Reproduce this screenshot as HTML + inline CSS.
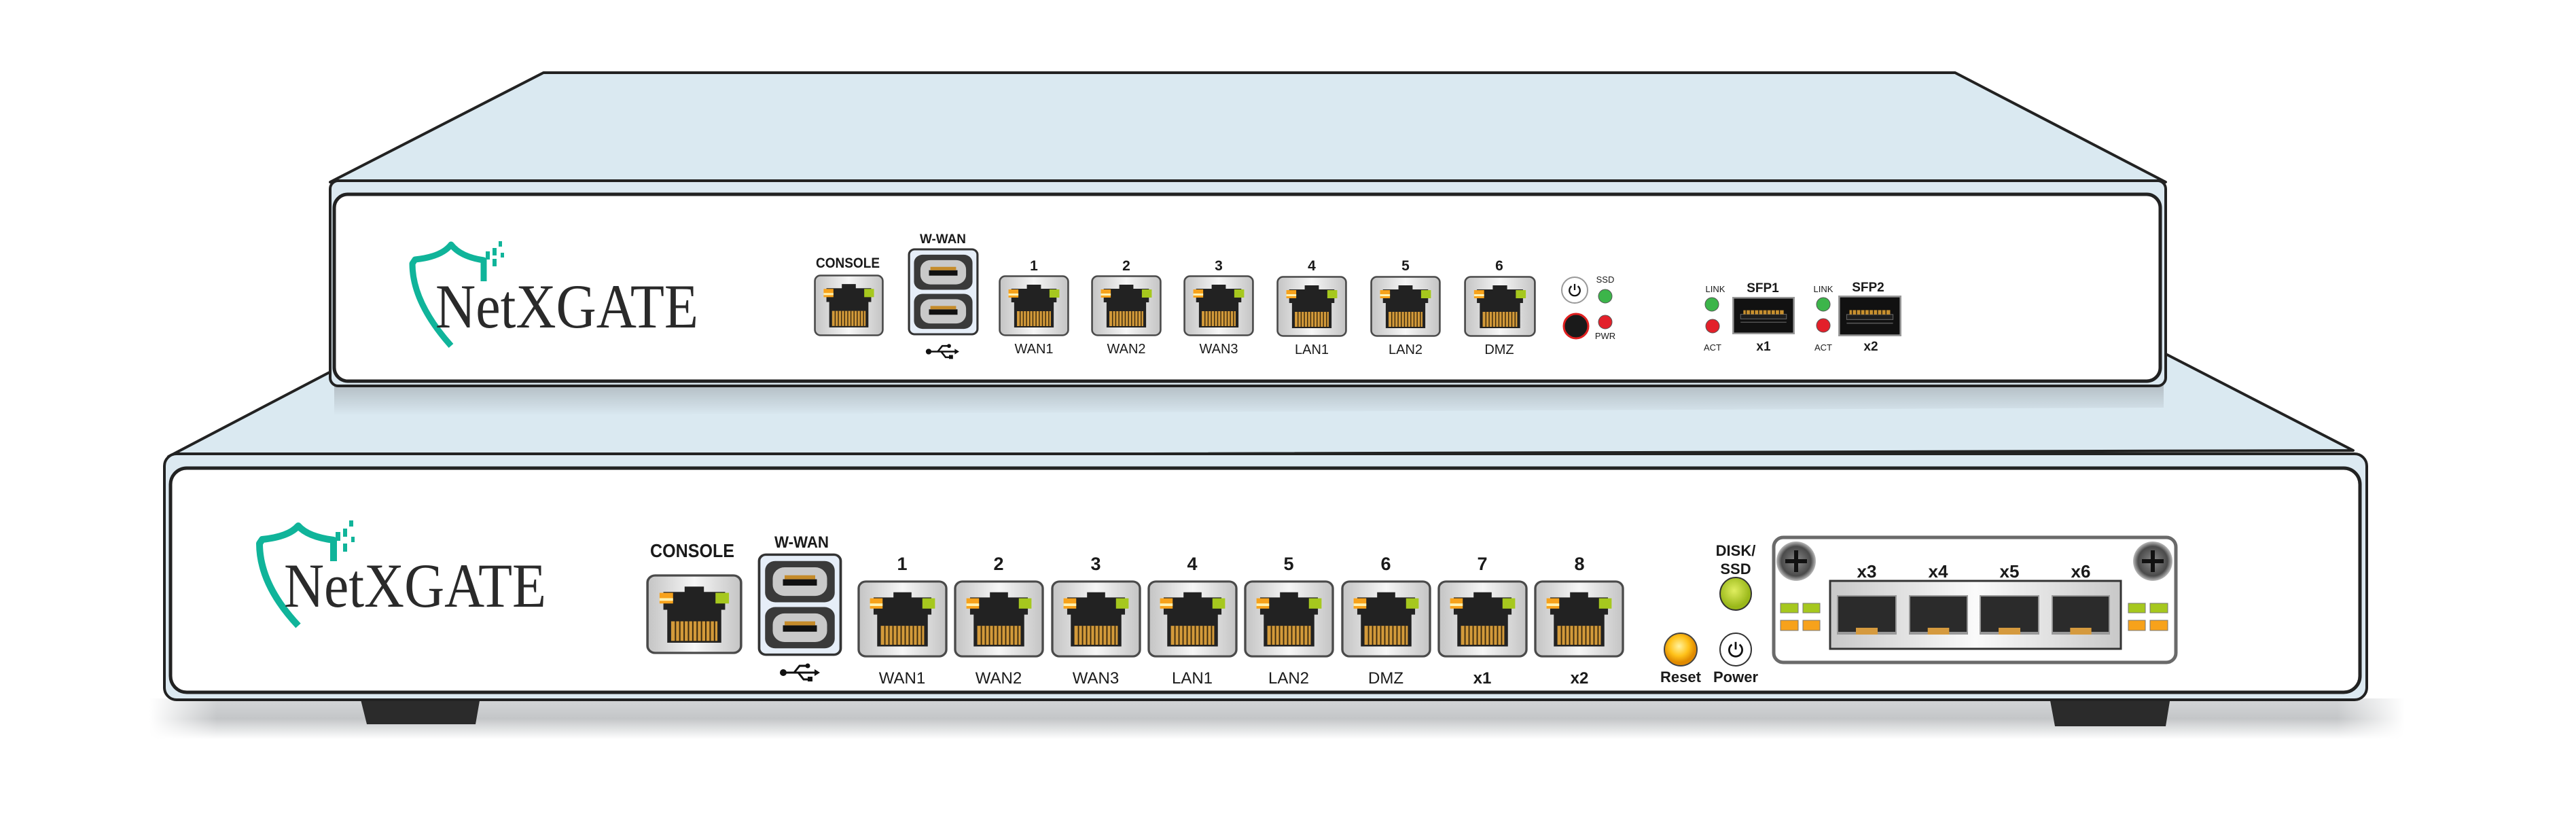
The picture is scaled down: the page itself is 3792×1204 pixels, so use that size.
<!DOCTYPE html>
<html><head><meta charset="utf-8"><style>
html,body{margin:0;padding:0;background:#fff;}
svg{display:block;}
text{font-family:"Liberation Sans",sans-serif;fill:#1a1a1a;}
.b{font-weight:bold;}
.logo{font-family:"Liberation Serif",serif;fill:#2a2a2a;}
</style></head><body>
<svg width="3792" height="1204" viewBox="0 0 3792 1204" xmlns="http://www.w3.org/2000/svg">
<defs>
  <linearGradient id="bez" x1="0" x2="1" y1="0" y2="0">
    <stop offset="0" stop-color="#c4c4c4"/><stop offset="0.5" stop-color="#f6f6f6"/><stop offset="1" stop-color="#c4c4c4"/>
  </linearGradient>
  <linearGradient id="cage" x1="0" x2="1" y1="0" y2="0">
    <stop offset="0" stop-color="#c8c8c8"/><stop offset="0.5" stop-color="#fafafa"/><stop offset="1" stop-color="#c8c8c8"/>
  </linearGradient>
  <linearGradient id="shadowV" x1="0" x2="0" y1="0" y2="1">
    <stop offset="0" stop-color="#a9b2b8"/><stop offset="1" stop-color="#dae9f1" stop-opacity="1"/>
  </linearGradient>
  <linearGradient id="floor" x1="0" x2="0" y1="0" y2="1">
    <stop offset="0" stop-color="#d4d6d8"/><stop offset="0.5" stop-color="#c4c6c8"/><stop offset="1" stop-color="#ffffff"/>
  </linearGradient>
  <linearGradient id="floorH" x1="0" x2="1" y1="0" y2="0">
    <stop offset="0" stop-color="#fff" stop-opacity="1"/><stop offset="0.03" stop-color="#fff" stop-opacity="0"/>
    <stop offset="0.97" stop-color="#fff" stop-opacity="0"/><stop offset="1" stop-color="#fff" stop-opacity="1"/>
  </linearGradient>
  <radialGradient id="screw"><stop offset="0" stop-color="#8a8a8a"/><stop offset="0.75" stop-color="#4a4a4a"/><stop offset="1" stop-color="#bbb"/></radialGradient>
  <radialGradient id="yel" cx="0.45" cy="0.4"><stop offset="0" stop-color="#fff3a0"/><stop offset="0.6" stop-color="#ffc21a"/><stop offset="1" stop-color="#e08a00"/></radialGradient>
  <radialGradient id="grn" cx="0.45" cy="0.4"><stop offset="0" stop-color="#e0ee60"/><stop offset="1" stop-color="#9ab81a"/></radialGradient>
  <symbol id="rj" viewBox="0 0 100 90" preserveAspectRatio="none">
    <rect x="1.5" y="1.5" width="97" height="87" rx="8" fill="url(#bez)" stroke="#4a4a4a" stroke-width="2.5"/>
    <path d="M40 14 H60 V20 H82 V40 H78 V77 H22 V40 H18 V20 H40 Z" fill="#222"/>
    <rect x="14" y="21" width="14" height="12" fill="#f7a21b"/>
    <rect x="14" y="27" width="14" height="3" fill="#fff2b0"/>
    <rect x="72" y="21" width="14" height="12" fill="#a6c81e"/>
    <rect x="26" y="53" width="48" height="22" fill="#d39a3a"/>
    <path d="M30.5 53V75M35 53V75M39.5 53V75M44 53V75M48.5 53V75M53 53V75M57.5 53V75M62 53V75M66.5 53V75M71 53V75" stroke="#3a2a10" stroke-width="1.4"/>
  </symbol>
  <symbol id="usb" viewBox="0 0 100 130" preserveAspectRatio="none">
    <rect x="2" y="2" width="96" height="126" rx="8" fill="#e6eef8" stroke="#333" stroke-width="3"/>
    <g>
      <rect x="9" y="10" width="82" height="52" rx="12" fill="#3a3a3a"/>
      <rect x="18" y="18" width="64" height="36" rx="14" fill="#c9c9c9"/>
      <rect x="30" y="33" width="40" height="8" fill="#111"/>
      <rect x="32" y="28" width="36" height="5" fill="#c58b2a"/>
    </g>
    <g transform="translate(0,58)">
      <rect x="9" y="10" width="82" height="52" rx="12" fill="#3a3a3a"/>
      <rect x="18" y="18" width="64" height="36" rx="14" fill="#c9c9c9"/>
      <rect x="30" y="33" width="40" height="8" fill="#111"/>
      <rect x="32" y="28" width="36" height="5" fill="#c58b2a"/>
    </g>
  </symbol>
  <symbol id="usbicon" viewBox="0 0 60 30">
    <circle cx="6" cy="15" r="5" fill="#111"/>
    <path d="M6 15 H54 M22 15 L30 5 H40 M28 15 L36 25 H44" stroke="#111" stroke-width="3" fill="none"/>
    <circle cx="42" cy="5" r="3.5" fill="#111"/><rect x="42" y="21" width="7" height="7" fill="#111"/>
    <path d="M52 10 L60 15 L52 20 Z" fill="#111"/>
  </symbol>
  <symbol id="pwr" viewBox="0 0 40 40">
    <path d="M13 11 A12 12 0 1 0 27 11" fill="none" stroke="#111" stroke-width="3.5"/>
    <path d="M20 6 V20" stroke="#111" stroke-width="3.5"/>
  </symbol>
  <symbol id="sfp" viewBox="0 0 90 56" preserveAspectRatio="none">
    <rect x="1" y="1" width="88" height="54" fill="#111" stroke="#999" stroke-width="3"/>
    <rect x="12" y="26" width="66" height="7" fill="#1e1e1e" stroke="#666" stroke-width="1"/>
    <rect x="16" y="20" width="58" height="6" fill="#c8902e"/>
    <path d="M20 20V26M26 20V26M32 20V26M38 20V26M44 20V26M50 20V26M56 20V26M62 20V26M68 20V26" stroke="#111" stroke-width="1.3"/>
    <path d="M12 38 H78" stroke="#555" stroke-width="1.5"/>
  </symbol>
  <symbol id="hole" viewBox="0 0 88 58" preserveAspectRatio="none">
    <rect x="0" y="0" width="88" height="58" fill="#999"/>
    <rect x="2" y="2" width="84" height="52" fill="#2b2b2b"/>
    <rect x="28" y="48" width="32" height="10" fill="#d59a3e"/>
  </symbol>
</defs>

<!-- ================= LOWER DEVICE ================= -->
<rect x="220" y="1028" width="3320" height="60" fill="url(#floor)"/>
<rect x="220" y="1028" width="3320" height="60" fill="url(#floorH)"/>
<path d="M530 1026 H707 L700 1066 H540 Z" fill="#2b2b2b"/>
<path d="M3017 1026 H3195 L3188 1069 H3025 Z" fill="#2b2b2b"/>
<path d="M485 548 L3190 522 L3464 663 L248 672 Z" fill="#dae9f1" stroke="#222" stroke-width="4" stroke-linejoin="round"/>
<rect x="242" y="668" width="3242" height="362" rx="18" fill="#dce9f1" stroke="#222" stroke-width="4"/>
<rect x="251" y="689" width="3223" height="330" rx="24" fill="#fff" stroke="#222" stroke-width="5"/>

<!-- lower logo -->
<path d="M439 921 Q382 860 382 800 L386 794 Q425 790 439 774 Q453 790 491 795 L491 826" fill="none" stroke="#10b49a" stroke-width="10" stroke-linejoin="round"/>
<rect x="494" y="783" width="7" height="13" fill="#10b49a"/><rect x="505" y="778" width="6" height="12" fill="#10b49a"/><rect x="514" y="766" width="6" height="9" fill="#10b49a"/><rect x="505" y="800" width="6" height="12" fill="#10b49a"/><rect x="517" y="790" width="5" height="8" fill="#10b49a"/>
<text class="logo" x="418" y="893" font-size="92" textLength="386" lengthAdjust="spacingAndGlyphs">NetXGATE</text>

<text class="b" x="1019" y="820" font-size="28" text-anchor="middle" textLength="124" lengthAdjust="spacingAndGlyphs">CONSOLE</text>
<use href="#rj" x="951" y="845" width="142" height="118"/>
<text class="b" x="1180" y="806" font-size="24" text-anchor="middle" textLength="80" lengthAdjust="spacingAndGlyphs">W-WAN</text>
<use href="#usb" x="1115" y="814" width="125" height="152"/>
<use href="#usbicon" x="1147" y="975" width="60" height="30"/>

<g font-size="27" class="b" text-anchor="middle">
<text x="1328" y="839">1</text><text x="1470" y="839">2</text><text x="1613" y="839">3</text><text x="1755" y="839">4</text><text x="1897" y="839">5</text><text x="2040" y="839">6</text><text x="2182" y="839">7</text><text x="2325" y="839">8</text>
</g>
<use href="#rj" x="1262" y="854" width="133" height="114"/>
<use href="#rj" x="1404" y="854" width="133" height="114"/>
<use href="#rj" x="1547" y="854" width="133" height="114"/>
<use href="#rj" x="1689" y="854" width="133" height="114"/>
<use href="#rj" x="1831" y="854" width="133" height="114"/>
<use href="#rj" x="1974" y="854" width="133" height="114"/>
<use href="#rj" x="2116" y="854" width="133" height="114"/>
<use href="#rj" x="2258" y="854" width="133" height="114"/>
<g font-size="24" text-anchor="middle">
<text x="1328" y="1006">WAN1</text><text x="1470" y="1006">WAN2</text><text x="1613" y="1006">WAN3</text><text x="1755" y="1006">LAN1</text><text x="1897" y="1006">LAN2</text><text x="2040" y="1006">DMZ</text>
<text class="b" x="2182" y="1006">x1</text><text class="b" x="2325" y="1006">x2</text>
</g>

<text class="b" x="2555" y="818" font-size="22" text-anchor="middle">DISK/</text>
<text class="b" x="2555" y="845" font-size="22" text-anchor="middle">SSD</text>
<ellipse cx="2555" cy="874" rx="23" ry="24" fill="url(#grn)" stroke="#333" stroke-width="2"/>
<ellipse cx="2474" cy="956" rx="24" ry="24" fill="url(#yel)" stroke="#444" stroke-width="2"/>
<ellipse cx="2555" cy="956" rx="23" ry="24" fill="#fff" stroke="#333" stroke-width="2"/>
<use href="#pwr" x="2539" y="940" width="32" height="32"/>
<text class="b" x="2474" y="1004" font-size="22" text-anchor="middle">Reset</text>
<text class="b" x="2555" y="1004" font-size="22" text-anchor="middle">Power</text>

<rect x="2611" y="791" width="592" height="184" rx="14" fill="#fff" stroke="#6a6a6a" stroke-width="5"/>
<circle cx="2644" cy="826" r="29" fill="url(#screw)"/>
<path d="M2644 810 V842 M2628 826 H2660" stroke="#111" stroke-width="6"/>
<circle cx="3169" cy="826" r="29" fill="url(#screw)"/>
<path d="M3169 810 V842 M3153 826 H3185" stroke="#111" stroke-width="6"/>
<g class="b" font-size="26" text-anchor="middle">
<text x="2748" y="850">x3</text><text x="2853" y="850">x4</text><text x="2958" y="850">x5</text><text x="3063" y="850">x6</text>
</g>
<rect x="2694" y="855" width="428" height="100" fill="url(#cage)" stroke="#333" stroke-width="3"/>
<use href="#hole" x="2704" y="876" width="88" height="58"/>
<use href="#hole" x="2810" y="876" width="87" height="58"/>
<use href="#hole" x="2914" y="876" width="88" height="58"/>
<use href="#hole" x="3020" y="876" width="86" height="58"/>
<g fill="#a6c81e" stroke="#777" stroke-width="1"><rect x="2621" y="888" width="26" height="14"/><rect x="2654" y="888" width="25" height="14"/><rect x="3133" y="888" width="25" height="14"/><rect x="3165" y="888" width="26" height="14"/></g>
<g fill="#f7a21b" stroke="#777" stroke-width="1"><rect x="2621" y="913" width="26" height="15"/><rect x="2654" y="913" width="25" height="15"/><rect x="3133" y="913" width="25" height="15"/><rect x="3165" y="913" width="26" height="15"/></g>

<!-- shadow of top device on lower top face -->
<path d="M492 568 L3185 566 L3185 600 L492 612 Z" fill="url(#shadowV)" opacity="0.8"/>

<!-- ================= TOP DEVICE ================= -->
<path d="M800 107 L2878 107 L3188 268 L486 268 Z" fill="#dae9f1" stroke="#222" stroke-width="4" stroke-linejoin="round"/>
<rect x="486" y="266" width="2702" height="302" rx="12" fill="#dce9f1" stroke="#222" stroke-width="4"/>
<rect x="492" y="286" width="2688" height="275" rx="20" fill="#fff" stroke="#222" stroke-width="5"/>

<path d="M664 509 Q607 445 607 388 L611 382 Q650 378 664 360 Q678 378 712 383 L712 414" fill="none" stroke="#10b49a" stroke-width="9" stroke-linejoin="round"/>
<rect x="715" y="370" width="6" height="12" fill="#10b49a"/><rect x="725" y="365" width="6" height="11" fill="#10b49a"/><rect x="734" y="355" width="5" height="8" fill="#10b49a"/><rect x="725" y="381" width="6" height="11" fill="#10b49a"/><rect x="737" y="372" width="5" height="7" fill="#10b49a"/>
<text class="logo" x="641" y="482" font-size="92" textLength="387" lengthAdjust="spacingAndGlyphs">NetXGATE</text>

<text class="b" x="1248" y="394" font-size="21" text-anchor="middle" textLength="94" lengthAdjust="spacingAndGlyphs">CONSOLE</text>
<use href="#rj" x="1198" y="404" width="103" height="91"/>
<text class="b" x="1388" y="358" font-size="19" text-anchor="middle" textLength="68" lengthAdjust="spacingAndGlyphs">W-WAN</text>
<use href="#usb" x="1336" y="365" width="105" height="129"/>
<use href="#usbicon" x="1362" y="505" width="50" height="25"/>

<g class="b" font-size="21" text-anchor="middle">
<text x="1522" y="398">1</text><text x="1658" y="398">2</text><text x="1794" y="398">3</text><text x="1931" y="398">4</text><text x="2069" y="398">5</text><text x="2207" y="398">6</text>
</g>
<use href="#rj" x="1470" y="405" width="104" height="90"/>
<use href="#rj" x="1606" y="405" width="104" height="90"/>
<use href="#rj" x="1742" y="405" width="104" height="90"/>
<use href="#rj" x="1879" y="406" width="104" height="90"/>
<use href="#rj" x="2017" y="406" width="104" height="90"/>
<use href="#rj" x="2155" y="406" width="106" height="90"/>
<g font-size="20" text-anchor="middle">
<text x="1522" y="520">WAN1</text><text x="1658" y="520">WAN2</text><text x="1794" y="520">WAN3</text><text x="1931" y="521">LAN1</text><text x="2069" y="521">LAN2</text><text x="2207" y="521">DMZ</text>
</g>

<circle cx="2318" cy="427" r="19" fill="#fff" stroke="#999" stroke-width="2"/>
<use href="#pwr" x="2305" y="414" width="26" height="26"/>
<circle cx="2320" cy="480" r="18" fill="#1a1a1a" stroke="#e02020" stroke-width="3"/>
<text x="2363" y="416" font-size="13" text-anchor="middle">SSD</text>
<circle cx="2363" cy="436" r="10" fill="#3cb54a" stroke="#555" stroke-width="1"/>
<circle cx="2363" cy="474" r="10" fill="#e3202a" stroke="#555" stroke-width="1"/>
<text x="2363" y="499" font-size="13" text-anchor="middle">PWR</text>

<text x="2525" y="430" font-size="13" text-anchor="middle">LINK</text>
<circle cx="2520" cy="448" r="10" fill="#3cb54a" stroke="#555" stroke-width="1"/>
<circle cx="2521" cy="480" r="10" fill="#e3202a" stroke="#555" stroke-width="1"/>
<text x="2521" y="516" font-size="13" text-anchor="middle">ACT</text>
<text class="b" x="2595" y="430" font-size="19" text-anchor="middle">SFP1</text>
<use href="#sfp" x="2550" y="437" width="92" height="55"/>
<text class="b" x="2596" y="516" font-size="19" text-anchor="middle">x1</text>

<text x="2684" y="430" font-size="13" text-anchor="middle">LINK</text>
<circle cx="2684" cy="448" r="10" fill="#3cb54a" stroke="#555" stroke-width="1"/>
<circle cx="2684" cy="479" r="10" fill="#e3202a" stroke="#555" stroke-width="1"/>
<text x="2684" y="516" font-size="13" text-anchor="middle">ACT</text>
<text class="b" x="2750" y="429" font-size="19" text-anchor="middle">SFP2</text>
<use href="#sfp" x="2706" y="435" width="93" height="60"/>
<text class="b" x="2754" y="516" font-size="19" text-anchor="middle">x2</text>
</svg>
</body></html>
